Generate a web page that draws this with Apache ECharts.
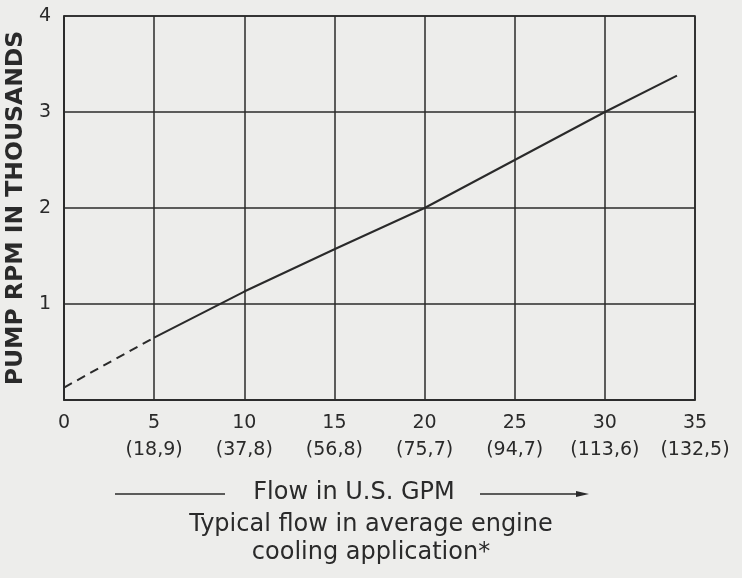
<!DOCTYPE html>
<html>
<head>
<meta charset="utf-8">
<script src="https://cdn.jsdelivr.net/npm/echarts@6/dist/echarts.min.js"></script>
<style>
html,body{margin:0;padding:0;background:#ededeb;}
#chart{width:742px;height:578px;}
</style>
</head>
<body>
<div id="chart"></div>
<script>
// Flow in U.S. GPM (x ticks) and litres/min equivalents
const xTicks = [0, 5, 10, 15, 20, 25, 30, 35];
const litreLabels = ['', '(18,9)', '(37,8)', '(56,8)', '(75,7)', '(94,7)', '(113,6)', '(132,5)'];
const yTicks = [0, 1, 2, 3, 4];
// Pump RPM in thousands vs flow (GPM)
const dashedFlow = [0, 5];
const dashedRpm = [0.13, 0.65];
const solidFlow = [5, 10, 15, 20, 25, 30, 34];
const solidRpm = [0.65, 1.13, 1.57, 2.0, 2.5, 3.0, 3.38];

const yTitle = 'PUMP RPM IN THOUSANDS';
const flowTitle = 'Flow in U.S. GPM';
const captionLine1 = 'Typical flow in average engine';
const captionLine2 = 'cooling application*';

const ink = '#2a2a2a';
const chart = echarts.init(document.getElementById('chart'));
chart.setOption({
  backgroundColor: '#ededeb',
  animation: false,
  grid: { left: 64, right: 47, top: 16, bottom: 178, outerBoundsMode: 'none', containLabel: false,
          show: true, borderColor: ink, borderWidth: 1.6 },
  xAxis: {
    type: 'value', min: xTicks[0], max: xTicks[xTicks.length - 1], interval: 5,
    axisLine: { show: true, lineStyle: { color: ink, width: 1.6 } },
    axisTick: { show: false },
    splitLine: { show: true, lineStyle: { color: ink, width: 1.5 } },
    axisLabel: {
      margin: 10,
      fontFamily: 'DejaVu Sans', fontSize: 19, color: ink, lineHeight: 27,
      formatter: function (v) {
        const i = xTicks.indexOf(v);
        return litreLabels[i] ? v + '\n' + litreLabels[i] : String(v);
      }
    }
  },
  yAxis: {
    type: 'value', min: yTicks[0], max: yTicks[yTicks.length - 1], interval: 1,
    name: yTitle, nameLocation: 'middle', nameGap: 30, nameRotate: 90,
    nameTextStyle: { fontFamily: 'DejaVu Sans', fontWeight: 'bold', fontSize: 23.5, color: ink },
    axisLine: { show: true, lineStyle: { color: ink, width: 1.6 } },
    axisTick: { show: false },
    splitLine: { show: true, lineStyle: { color: ink, width: 1.5 } },
    axisLabel: {
      margin: 13, fontFamily: 'DejaVu Sans', fontSize: 19, color: ink,
      formatter: function (v) { return v === 0 ? '' : String(v); }
    }
  },
  series: [
    {
      type: 'line', data: dashedFlow.map((x, i) => [x, dashedRpm[i]]),
      symbol: 'none', lineStyle: { color: ink, width: 2, type: [9, 6] }
    },
    {
      type: 'line', data: solidFlow.map((x, i) => [x, solidRpm[i]]),
      symbol: 'none', lineStyle: { color: ink, width: 2 }
    }
  ],
  graphic: [
    { type: 'line', shape: { x1: 115, y1: 494, x2: 225, y2: 494 }, style: { stroke: ink, lineWidth: 1.5 } },
    { type: 'text', x: 354, y: 493, style: { text: flowTitle, font: '24px "DejaVu Sans"', fill: ink, align: 'center', verticalAlign: 'middle' } },
    { type: 'line', shape: { x1: 480, y1: 494, x2: 578, y2: 494 }, style: { stroke: ink, lineWidth: 1.5 } },
    { type: 'polygon', shape: { points: [[576, 491], [589, 494], [576, 497]] }, style: { fill: ink } },
    { type: 'text', x: 371, y: 525, style: { text: captionLine1, font: '24px "DejaVu Sans"', fill: ink, align: 'center', verticalAlign: 'middle' } },
    { type: 'text', x: 371, y: 553, style: { text: captionLine2, font: '24px "DejaVu Sans"', fill: ink, align: 'center', verticalAlign: 'middle' } }
  ]
});
</script>
</body>
</html>
